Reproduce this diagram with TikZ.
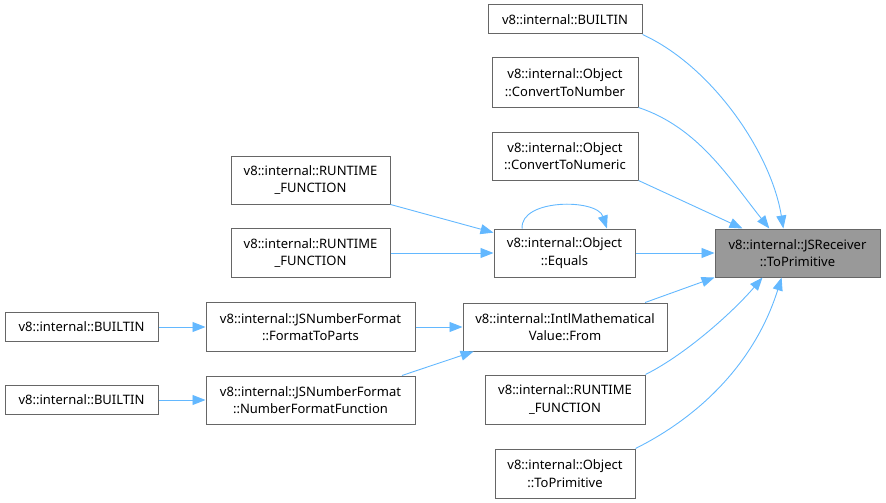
\documentclass[tikz,border=0pt]{standalone}
\usepackage{fontspec}
\setmainfont{Noto Sans}
\usepackage{tikz}
\usetikzlibrary{arrows.meta}
\definecolor{edgeblue}{HTML}{63B8FF}
\definecolor{boxgray}{HTML}{666666}
\definecolor{hilite}{HTML}{999999}

\begin{document}
\begin{tikzpicture}[x=1pt, y=1pt,
  fn/.style={draw=boxgray, line width=1pt, fill=white, align=center, inner sep=2pt, font=\fontsize{13}{17.5}\selectfont, minimum height=48pt},
  fn1/.style={fn, minimum height=29pt},
  focus/.style={fn, fill=hilite},
  arr/.style={-{Triangle[length=13pt,width=10pt]}, draw=edgeblue, line width=0.9pt}
]
\useasboundingbox (0,0) rectangle (886,-503);
\node[focus, minimum width=165pt] (tgt) at (797.5,-253) {v8::internal::JSReceiver\\::ToPrimitive};
\node[fn1, minimum width=154pt] (bt) at (565,-19.5) {v8::internal::BUILTIN};
\node[fn, minimum width=146pt, minimum height=49pt] (ctn) at (565,-82.5) {v8::internal::Object\\::ConvertToNumber};
\node[fn, minimum width=146pt] (ctnc) at (565,-156) {v8::internal::Object\\::ConvertToNumeric};
\node[fn, minimum width=141pt] (eq) at (564.5,-253) {v8::internal::Object\\::Equals};
\node[fn, minimum width=204pt] (imv) at (565,-327) {v8::internal::IntlMathematical\\Value::From};
\node[fn, minimum width=160pt, minimum height=49pt] (rtr) at (565,-399.5) {v8::internal::RUNTIME\\\_FUNCTION};
\node[fn, minimum width=140pt, minimum height=49pt] (otp) at (565,-473.5) {v8::internal::Object\\::ToPrimitive};
\node[fn, minimum width=159pt] (rt1) at (310.5,-180) {v8::internal::RUNTIME\\\_FUNCTION};
\node[fn, minimum width=159pt, minimum height=49pt] (rt2) at (310.5,-253) {v8::internal::RUNTIME\\\_FUNCTION};
\node[fn, minimum width=209pt, minimum height=49pt] (ftp) at (310.5,-327) {v8::internal::JSNumberFormat\\::FormatToParts};
\node[fn, minimum width=209pt] (nff) at (310.5,-400) {v8::internal::JSNumberFormat\\::NumberFormatFunction};
\node[fn1, minimum width=153pt] (bt1) at (81.5,-327) {v8::internal::BUILTIN};
\node[fn1, minimum width=153pt] (bt2) at (81.5,-400) {v8::internal::BUILTIN};
\draw[arr] (bt.south east) .. controls +(70,-32) and +(-12,75) .. (tgt.120);
\draw[arr] (ctn.south east) .. controls +(60,-20) and +(-40,50) .. (tgt.139);
\draw[arr] (ctnc.south east) -- (tgt.156);
\draw[arr] (imv.17) -- (tgt.south west);
\draw[arr] (rtr.north east) .. controls +(40,20) and +(-30,-35) .. (tgt.215);
\draw[arr] (otp.north east) .. controls +(70,35) and +(-25,-80) .. (tgt.237);
\draw[arr] (eq.150) .. controls +(-2,30) and +(-10,30) .. (eq.30);
\draw[arr] (rt1.south east) -- (eq.164);
\draw[arr] (nff.15) -- (imv.195);
\foreach \a/\b in {eq/tgt, rt2/eq, ftp/imv, bt1/ftp, bt2/nff} { \draw[arr] (\a) -- (\b); }
\end{tikzpicture}
\end{document}
